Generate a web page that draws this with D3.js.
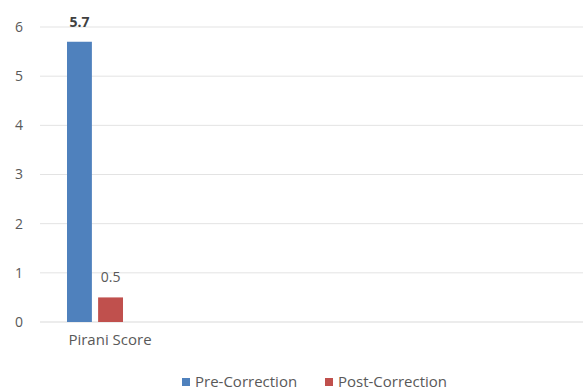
<!DOCTYPE html>
<html>
<head>
<meta charset="utf-8">
<script src="https://cdn.jsdelivr.net/npm/d3@7"></script>
<style>
  body { margin: 0; background: #fff; }
  text { font-family: "Open Sans", "Liberation Sans", sans-serif; fill: #595959; }
</style>
</head>
<body>
<div class="chart"></div>
<script>
const categories = ['Pirani Score']
const seriesNames = ['Pre-Correction', 'Post-Correction']
const seriesColours = ['#4f81bd', '#c0504d']
const preValues = [5.7]
const postValues = [0.5]
const yTicks = [0, 1, 2, 3, 4, 5, 6]

const fullWidth = 583, fullHeight = 391
const margin = { top: 27, right: 0, bottom: 69, left: 40 }
const width = fullWidth - margin.left - margin.right
const height = fullHeight - margin.top - margin.bottom

const svg = d3.select('.chart').append('svg')
    .attr('width', fullWidth)
    .attr('height', fullHeight)
const g = svg.append('g').attr('transform', `translate(${margin.left}, ${margin.top})`)

const yScale = d3.scaleLinear().domain([0, 6]).range([height, 0])

// category band only covers the left part of the plot
const x0 = d3.scaleBand().domain(categories).range([0, 110]).paddingInner(0).paddingOuter(0.482)
const x1 = d3.scaleBand().domain(seriesNames).range([0, x0.bandwidth()]).paddingInner(0.2)

// gridlines
g.append('g').selectAll('line').data(yTicks).enter().append('line')
    .attr('x1', 0).attr('x2', width)
    .attr('y1', d => yScale(d)).attr('y2', d => yScale(d))
    .style('stroke', d => d === 0 ? '#d9d9d9' : '#e3e3e3')
    .style('stroke-width', 1)

// y labels
g.append('g').selectAll('text').data(yTicks).enter().append('text')
    .attr('x', -17).attr('y', d => yScale(d))
    .attr('dy', '0.35em')
    .attr('text-anchor', 'end')
    .style('font-size', '14px')
    .text(d => d)

const rows = categories.map((c, i) => ({ cat: c, values: [preValues[i], postValues[i]] }))

rows.forEach(row => {
    const grp = g.append('g').attr('transform', `translate(${x0(row.cat)}, 0)`)
    row.values.forEach((v, j) => {
        grp.append('rect')
            .attr('x', x1(seriesNames[j]))
            .attr('y', yScale(v))
            .attr('width', x1.bandwidth())
            .attr('height', yScale(0) - yScale(v))
            .style('fill', seriesColours[j])
        grp.append('text')
            .attr('x', x1(seriesNames[j]) + x1.bandwidth() / 2)
            .attr('y', yScale(v) - 15)
            .attr('text-anchor', 'middle')
            .style('font-size', '14px')
            .style('font-weight', j === 0 ? 'bold' : 'normal')
            .style('fill', j === 0 ? '#404040' : '#595959')
            .text(v.toFixed(1))
    })
    g.append('text')
        .attr('x', x0(row.cat) + x0.bandwidth() / 2 + 15)
        .attr('y', height + 23)
        .attr('text-anchor', 'middle')
        .style('font-size', '15px')
        .text(row.cat)
})

// legend
const legend = svg.append('g').attr('transform', `translate(182, 382)`)
const legendOffsets = [0, 143]
seriesNames.forEach((s, i) => {
    const item = legend.append('g').attr('transform', `translate(${legendOffsets[i]}, 0)`)
    item.append('rect').attr('x', 0).attr('y', -4).attr('width', 8).attr('height', 8)
        .style('fill', seriesColours[i])
    item.append('text').attr('x', 13).attr('y', 0).attr('dy', '0.35em')
        .style('font-size', '15px')
        .text(s)
})
</script>
</body>
</html>
